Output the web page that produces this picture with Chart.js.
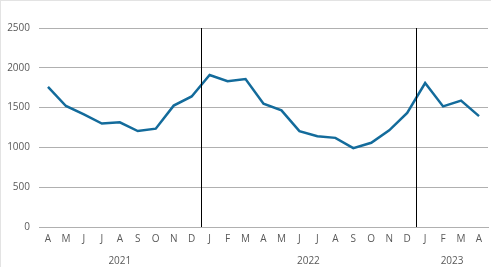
<!DOCTYPE html>
<html><head><meta charset="utf-8">
<script src="https://cdn.jsdelivr.net/npm/chart.js@4"></script>
<style>
html,body{margin:0;padding:0;background:#fff;}
#wrap{position:relative;width:491px;height:267px;box-sizing:border-box;border-top:1px solid #e3e3e3;border-left:1px solid #e3e3e3;}
canvas{position:absolute;left:-1px;top:-1px;}
</style></head>
<body><div id="wrap"><canvas id="c" width="491" height="267"></canvas></div>
<script>
const months = ['A','M','J','J','A','S','O','N','D','J','F','M','A','M','J','J','A','S','O','N','D','J','F','M','A'];
const values = [1760,1520,1415,1300,1315,1205,1235,1525,1640,1910,1832,1858,1550,1465,1205,1140,1120,990,1058,1215,1432,1808,1515,1588,1393];
const years = ['2021','2022','2023'];
const yearStart = [0,9,21];
const yearEnd = [8,20,24];
const yTicks = [0,500,1000,1500,2000,2500];

const yearPlugin = {
  id:'years',
  afterDatasetsDraw(chart){
    const ctx = chart.ctx, x = chart.scales.x, a = chart.chartArea;
    ctx.save();
    ctx.strokeStyle = '#000'; ctx.lineWidth = 1;
    for (let i=1;i<yearStart.length;i++){
      const px = Math.round((x.getPixelForValue(yearStart[i]-1)+x.getPixelForValue(yearStart[i]))/2)+0.5;
      ctx.beginPath(); ctx.moveTo(px,a.top); ctx.lineTo(px,a.bottom); ctx.stroke();
    }
    ctx.fillStyle = '#595959';
    ctx.font = '10px "Open Sans", "Liberation Sans", sans-serif';
    ctx.textAlign = 'center'; ctx.textBaseline = 'middle';
    for (let i=0;i<years.length;i++){
      const px = (x.getPixelForValue(yearStart[i])+x.getPixelForValue(yearEnd[i]))/2;
      ctx.fillText(years[i], px, 261);
    }
    ctx.restore();
  }
};

new Chart(document.getElementById('c'), {
  type:'line',
  data:{labels:months, datasets:[{data:values, borderColor:'#136b9b', borderWidth:2.5, pointRadius:0, tension:0, fill:false}]},
  options:{
    responsive:false, animation:false,
    layout:{padding:{top:28,right:3,left:4,bottom:0}},
    plugins:{legend:{display:false}, tooltip:{enabled:false}},
    scales:{
      x:{offset:true,
        grid:{display:false, drawTicks:false},
        border:{color:'#b0b0b0'},
        ticks:{color:'#595959', font:{size:10, family:'"Open Sans", "Liberation Sans", sans-serif'}, padding:6, maxRotation:0, autoSkip:false},
        afterFit(s){ s.height = 40; }
      },
      y:{min:0,max:2500,
        afterBuildTicks(s){ s.ticks = yTicks.map(v=>({value:v})); },
        grid:{color:'#b0b0b0', drawTicks:false},
        border:{display:false},
        ticks:{color:'#595959', font:{size:10, family:'"Open Sans", "Liberation Sans", sans-serif'}, padding:9, callback:(v)=>String(v)},
        afterFit(s){ s.width = 35; }
      }
    }
  },
  plugins:[yearPlugin]
});
</script>
</body></html>
